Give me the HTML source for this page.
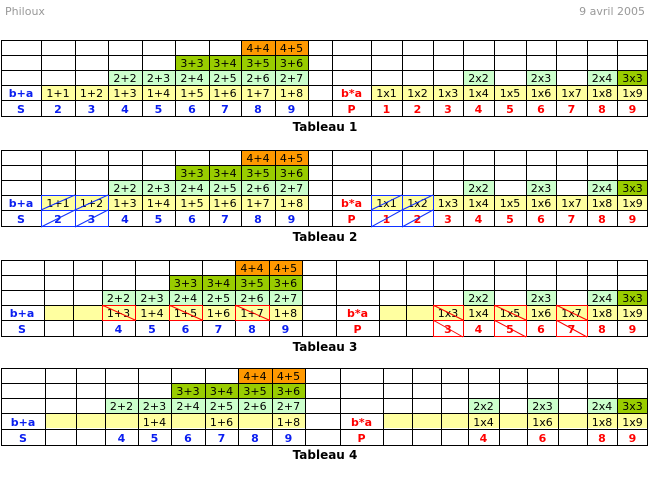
<!DOCTYPE html>
<html><head><meta charset="utf-8"><style>
html,body{margin:0;padding:0;background:#fff;width:650px;height:478px;overflow:hidden}
svg{display:block}
text{font-family:"DejaVu Sans","Liberation Sans",sans-serif;font-size:11px;text-anchor:middle;fill:#000}
.b{font-weight:bold;fill:#0a1ef0}
.r{font-weight:bold;fill:#f00}
.t{font-weight:bold;font-size:12px}
.g{stroke:#000;stroke-width:1;fill:none;shape-rendering:crispEdges}
</style></head><body>
<svg width="650" height="478" viewBox="0 0 650 478">
<text x="5" y="15" style="text-anchor:start;fill:#999;font-size:11px">Philoux</text>
<text x="645" y="15" style="text-anchor:end;fill:#999;font-size:11px">9 avril 2005</text>

<defs>
<g id="t12">
<rect x="41" y="85" width="267" height="15" fill="#ffffa0"/>
<rect x="108" y="70" width="200" height="15" fill="#ccffcc"/>
<rect x="175" y="55" width="133" height="15" fill="#99cc00"/>
<rect x="241" y="40" width="67" height="15" fill="#ff9900"/>
<rect x="371" y="85" width="277" height="15" fill="#ffffa0"/>
<rect x="463" y="70" width="31" height="15" fill="#ccffcc"/>
<rect x="526" y="70" width="30" height="15" fill="#ccffcc"/>
<rect x="587" y="70" width="30" height="15" fill="#ccffcc"/>
<rect x="617" y="70" width="31" height="15" fill="#99cc00"/>
<path class="g" d="M1 40.5H648M1 55.5H648M1 70.5H648M1 85.5H648M1 100.5H648M1 116.5H648
M1.5 40V117M41.5 40V117M75.5 40V117M108.5 40V117M142.5 40V117M175.5 40V117M209.5 40V117M241.5 40V117M275.5 40V117M308.5 40V117M332.5 40V117M371.5 40V117M402.5 40V117M433.5 40V117M463.5 40V117M494.5 40V117M526.5 40V117M556.5 40V117M587.5 40V117M617.5 40V117M647.5 40V117"/>
<text x="258" y="52">4+4</text><text x="291.5" y="52">4+5</text>
<text x="192" y="67">3+3</text><text x="225" y="67">3+4</text><text x="258" y="67">3+5</text><text x="291.5" y="67">3+6</text>
<text x="125" y="82">2+2</text><text x="158.5" y="82">2+3</text><text x="192" y="82">2+4</text><text x="225" y="82">2+5</text><text x="258" y="82">2+6</text><text x="291.5" y="82">2+7</text>
<text class="b" x="21" y="97">b+a</text>
<text x="58" y="97">1+1</text><text x="91.5" y="97">1+2</text><text x="125" y="97">1+3</text><text x="158.5" y="97">1+4</text><text x="192" y="97">1+5</text><text x="225" y="97">1+6</text><text x="258" y="97">1+7</text><text x="291.5" y="97">1+8</text>
<text class="b" x="21" y="113">S</text>
<text class="b" x="58" y="113">2</text><text class="b" x="91.5" y="113">3</text><text class="b" x="125" y="113">4</text><text class="b" x="158.5" y="113">5</text><text class="b" x="192" y="113">6</text><text class="b" x="225" y="113">7</text><text class="b" x="258" y="113">8</text><text class="b" x="291.5" y="113">9</text>
<text x="478.5" y="82">2x2</text><text x="541" y="82">2x3</text><text x="602" y="82">2x4</text><text x="632.5" y="82">3x3</text>
<text class="r" x="351.5" y="97">b*a</text>
<text x="386.5" y="97">1x1</text><text x="417.5" y="97">1x2</text><text x="448" y="97">1x3</text><text x="478.5" y="97">1x4</text><text x="510" y="97">1x5</text><text x="541" y="97">1x6</text><text x="571.5" y="97">1x7</text><text x="602" y="97">1x8</text><text x="632.5" y="97">1x9</text>
<text class="r" x="351.5" y="113">P</text>
<text class="r" x="386.5" y="113">1</text><text class="r" x="417.5" y="113">2</text><text class="r" x="448" y="113">3</text><text class="r" x="478.5" y="113">4</text><text class="r" x="510" y="113">5</text><text class="r" x="541" y="113">6</text><text class="r" x="571.5" y="113">7</text><text class="r" x="602" y="113">8</text><text class="r" x="632.5" y="113">9</text>
</g>
</defs>
<use href="#t12"/>
<text class="t" x="325" y="131">Tableau 1</text>

<g transform="translate(0,110)">
<use href="#t12"/>
<path d="M41.5 85.5H108.5V116.5H41.5ZM75.5 85.5V116.5M41.5 100.5H108.5M41 100L75 85M75 100L108 85M41 117L75 100M75 117L108 100
M371.5 85.5H433.5V116.5H371.5ZM402.5 85.5V116.5M371.5 100.5H433.5M371 100L402 85M402 100L433 85M371 117L402 100M402 117L433 100" stroke="#1030ff" fill="none"/>
<text class="t" x="325" y="131">Tableau 2</text>
</g>

<g transform="translate(0,220)">
<rect x="44" y="85" width="258" height="15" fill="#ffffa0"/>
<rect x="102" y="70" width="200" height="15" fill="#ccffcc"/>
<rect x="169" y="55" width="133" height="15" fill="#99cc00"/>
<rect x="235" y="40" width="67" height="15" fill="#ff9900"/>
<rect x="379" y="85" width="269" height="15" fill="#ffffa0"/>
<rect x="463" y="70" width="31" height="15" fill="#ccffcc"/>
<rect x="526" y="70" width="30" height="15" fill="#ccffcc"/>
<rect x="587" y="70" width="30" height="15" fill="#ccffcc"/>
<rect x="617" y="70" width="31" height="15" fill="#99cc00"/>
<path class="g" d="M1 40.5H648M1 55.5H648M1 70.5H648M1 85.5H648M1 100.5H648M1 116.5H648
M1.5 40V117M44.5 40V117M73.5 40V117M102.5 40V117M135.5 40V117M169.5 40V117M202.5 40V117M235.5 40V117M269.5 40V117M302.5 40V117M336.5 40V117M379.5 40V117M406.5 40V117M433.5 40V117M463.5 40V117M494.5 40V117M526.5 40V117M556.5 40V117M587.5 40V117M617.5 40V117M647.5 40V117"/>
<text x="252" y="52">4+4</text><text x="285.5" y="52">4+5</text>
<text x="185.5" y="67">3+3</text><text x="218.5" y="67">3+4</text><text x="252" y="67">3+5</text><text x="285.5" y="67">3+6</text>
<text x="118.5" y="82">2+2</text><text x="152" y="82">2+3</text><text x="185.5" y="82">2+4</text><text x="218.5" y="82">2+5</text><text x="252" y="82">2+6</text><text x="285.5" y="82">2+7</text>
<text class="b" x="22" y="97">b+a</text>
<text x="118.5" y="97">1+3</text><text x="152" y="97">1+4</text><text x="185.5" y="97">1+5</text><text x="218.5" y="97">1+6</text><text x="252" y="97">1+7</text><text x="285.5" y="97">1+8</text>
<text class="b" x="22" y="113">S</text>
<text class="b" x="118.5" y="113">4</text><text class="b" x="152" y="113">5</text><text class="b" x="185.5" y="113">6</text><text class="b" x="218.5" y="113">7</text><text class="b" x="252" y="113">8</text><text class="b" x="285.5" y="113">9</text>
<text x="478.5" y="82">2x2</text><text x="541" y="82">2x3</text><text x="602" y="82">2x4</text><text x="632.5" y="82">3x3</text>
<text class="r" x="357.5" y="97">b*a</text>
<text x="448" y="97">1x3</text><text x="478.5" y="97">1x4</text><text x="510" y="97">1x5</text><text x="541" y="97">1x6</text><text x="571.5" y="97">1x7</text><text x="602" y="97">1x8</text><text x="632.5" y="97">1x9</text>
<text class="r" x="357.5" y="113">P</text>
<text class="r" x="448" y="113">3</text><text class="r" x="478.5" y="113">4</text><text class="r" x="510" y="113">5</text><text class="r" x="541" y="113">6</text><text class="r" x="571.5" y="113">7</text><text class="r" x="602" y="113">8</text><text class="r" x="632.5" y="113">9</text>
<path d="M102.5 85.5H135.5V100.5H102.5ZM102 85L135 100M169.5 85.5H202.5V100.5H169.5ZM169 85L202 100M235.5 85.5H269.5V100.5H235.5ZM235 85L269 100
M433.5 85.5H463.5V116.5H433.5ZM433.5 100.5H463.5M433 85L463 100M433 100L463 117
M494.5 85.5H526.5V116.5H494.5ZM494.5 100.5H526.5M494 85L526 100M494 100L526 117
M556.5 85.5H587.5V116.5H556.5ZM556.5 100.5H587.5M556 85L587 100M556 100L587 117" stroke="#f00" fill="none"/>
<text class="t" x="325" y="131">Tableau 3</text>
</g>

<g transform="translate(0,328)">
<rect x="45" y="85" width="260" height="15" fill="#ffffa0"/>
<rect x="105" y="70" width="200" height="15" fill="#ccffcc"/>
<rect x="171" y="55" width="134" height="15" fill="#99cc00"/>
<rect x="238" y="40" width="67" height="15" fill="#ff9900"/>
<rect x="383" y="85" width="265" height="15" fill="#ffffa0"/>
<rect x="468" y="70" width="31" height="15" fill="#ccffcc"/>
<rect x="527" y="70" width="31" height="15" fill="#ccffcc"/>
<rect x="587" y="70" width="30" height="15" fill="#ccffcc"/>
<rect x="617" y="70" width="31" height="15" fill="#99cc00"/>
<path class="g" d="M1 40.5H648M1 55.5H648M1 70.5H648M1 85.5H648M1 101.5H648M1 117.5H648
M1.5 40V118M45.5 40V118M76.5 40V118M105.5 40V118M138.5 40V118M171.5 40V118M205.5 40V118M238.5 40V118M272.5 40V118M305.5 40V118M340.5 40V118M383.5 40V118M412.5 40V118M441.5 40V118M468.5 40V118M499.5 40V118M527.5 40V118M558.5 40V118M587.5 40V118M617.5 40V118M647.5 40V118"/>
<text x="255" y="52">4+4</text><text x="288.5" y="52">4+5</text>
<text x="188" y="67">3+3</text><text x="221.5" y="67">3+4</text><text x="255" y="67">3+5</text><text x="288.5" y="67">3+6</text>
<text x="121.5" y="82">2+2</text><text x="154.5" y="82">2+3</text><text x="188" y="82">2+4</text><text x="221.5" y="82">2+5</text><text x="255" y="82">2+6</text><text x="288.5" y="82">2+7</text>
<text class="b" x="23" y="98">b+a</text>
<text x="154.5" y="98">1+4</text><text x="221.5" y="98">1+6</text><text x="288.5" y="98">1+8</text>
<text class="b" x="23" y="114">S</text>
<text class="b" x="121.5" y="114">4</text><text class="b" x="154.5" y="114">5</text><text class="b" x="188" y="114">6</text><text class="b" x="221.5" y="114">7</text><text class="b" x="255" y="114">8</text><text class="b" x="288.5" y="114">9</text>
<text x="483.5" y="82">2x2</text><text x="542.5" y="82">2x3</text><text x="602" y="82">2x4</text><text x="632.5" y="82">3x3</text>
<text class="r" x="361.5" y="98">b*a</text>
<text x="483.5" y="98">1x4</text><text x="542.5" y="98">1x6</text><text x="602" y="98">1x8</text><text x="632.5" y="98">1x9</text>
<text class="r" x="361.5" y="114">P</text>
<text class="r" x="483.5" y="114">4</text><text class="r" x="542.5" y="114">6</text><text class="r" x="602" y="114">8</text><text class="r" x="632.5" y="114">9</text>
<text class="t" x="325" y="131">Tableau 4</text>
</g>
</svg>
</body></html>
